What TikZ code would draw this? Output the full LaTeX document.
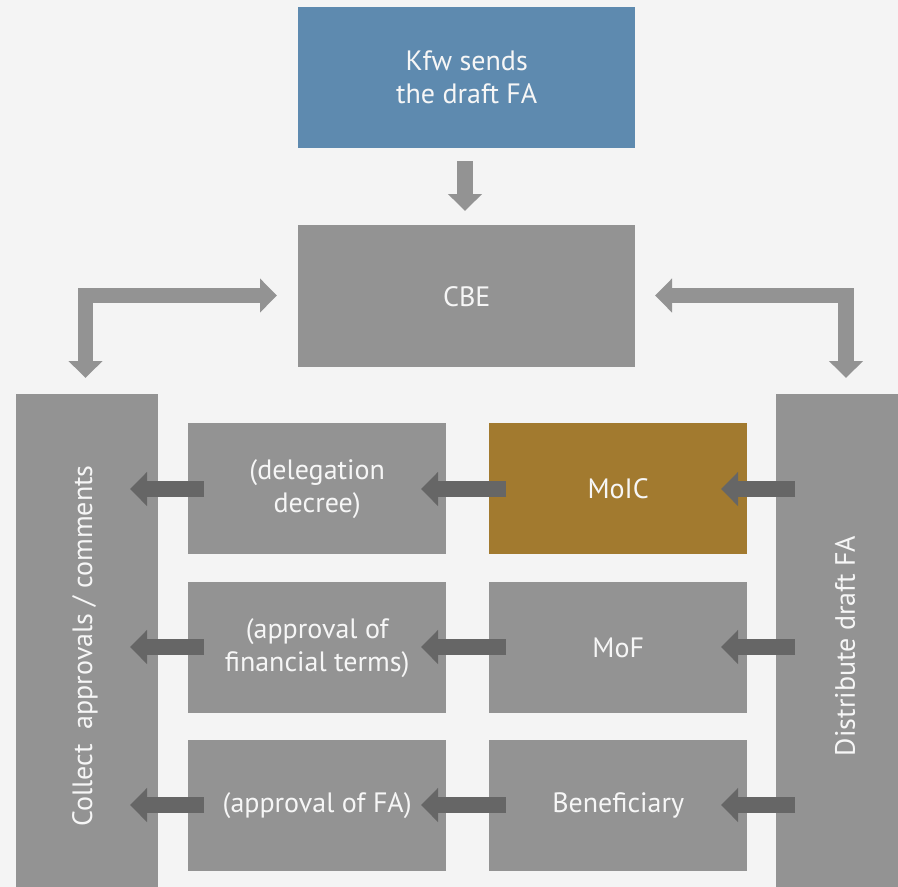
\documentclass[tikz,border=0pt]{standalone}
\usepackage{fontspec}
\setmainfont{PT Sans}
\usetikzlibrary{arrows.meta}
\definecolor{bgc}{HTML}{F4F4F4}
\definecolor{boxgray}{HTML}{939393}
\definecolor{arrdark}{HTML}{666666}
\definecolor{boxblue}{HTML}{5E8AAF}
\definecolor{boxgold}{HTML}{A27A2F}
\definecolor{txtc}{HTML}{F6F6F6}
\tikzset{
  lbl/.style={font=\fontsize{28}{33}\selectfont},
  blk/.style={fill=boxgray, text=txtc, inner sep=0pt, anchor=north west, align=center, lbl},
  lightarrow/.style={draw=boxgray, line width=16pt, line join=miter,
    -{Triangle[width=33pt,length=17pt]}},
  lightdbl/.style={draw=boxgray, line width=15.5pt, line join=miter,
    {Triangle[width=33pt,length=17pt]}-{Triangle[width=33pt,length=17pt]}},
  darkarrow/.style={draw=arrdark, line width=16pt,
    -{Triangle[width=33pt,length=17pt]}},
}
\begin{document}
\begin{tikzpicture}[x=1pt,y=-1pt]
\useasboundingbox (0,0) rectangle (898,887);
\clip (0,0) rectangle (898,887);
\fill[bgc] (0,0) rectangle (898,887);
% boxes
\node[blk, fill=boxblue, minimum width=337pt, minimum height=141pt] (kfw) at (298,7) {Kfw sends\\the draft FA};
\node[blk, minimum width=337pt, minimum height=142pt] (cbe) at (298,225) {CBE};
\node[blk, minimum width=142pt, minimum height=504pt] (collect) at (16,394) {};
\node[text=txtc, rotate=90, lbl] (collectt) at (85,646) {Collect\ \ approvals / comments};
\node[blk, minimum width=142pt, minimum height=504pt] (distr) at (776,394) {};
\node[text=txtc, rotate=90, lbl] (distrt) at (845,646) {Distribute draft FA};
\node[blk, minimum width=258pt, minimum height=131pt] (deleg) at (188,423) {(delegation\\decree)};
\node[blk, fill=boxgold, minimum width=258pt, minimum height=131pt] (moic) at (489,423) {MoIC};
\node[blk, minimum width=258pt, minimum height=131pt] (fin) at (188,582) {(approval of\\financial terms)};
\node[blk, minimum width=258pt, minimum height=131pt] (mof) at (489,582) {MoF};
\node[blk, minimum width=258pt, minimum height=131pt] (appfa) at (188,740) {(approval of FA)};
\node[blk, minimum width=258pt, minimum height=131pt] (benef) at (489,740) {Beneficiary};
% connector end points
\coordinate (t1) at (465,161);
\coordinate (h1) at (465,211);
\coordinate (lA) at (85.5,378);
\coordinate (lB) at (85.5,295.5);
\coordinate (lC) at (277,295.5);
\coordinate (rA) at (655,295.5);
\coordinate (rB) at (846,295.5);
\coordinate (rC) at (846,378);
% arrows
\draw[lightarrow] (t1) -- (h1);
\draw[lightdbl] (lA) -- (lB) -- (lC);
\draw[lightdbl] (rA) -- (rB) -- (rC);
\foreach \r/\y in {1/489,2/647,3/805}{
  \coordinate (ra\r) at (795,\y);
  \coordinate (rb\r) at (721,\y);
  \coordinate (ma\r) at (506,\y);
  \coordinate (mb\r) at (421,\y);
  \coordinate (la\r) at (204,\y);
  \coordinate (lb\r) at (130,\y);
  \draw[darkarrow] (ra\r) -- (rb\r);
  \draw[darkarrow] (ma\r) -- (mb\r);
  \draw[darkarrow] (la\r) -- (lb\r);
}
\end{tikzpicture}
\end{document}
